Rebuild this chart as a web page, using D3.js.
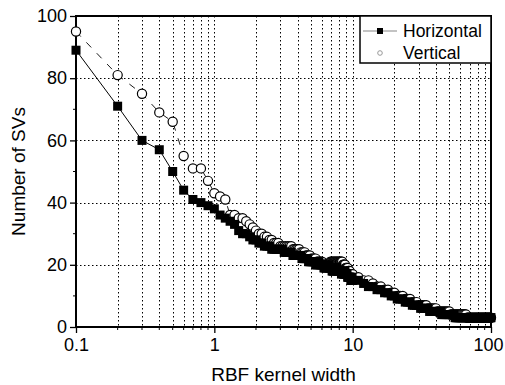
<!DOCTYPE html>
<html lang="en">
<head>
<meta charset="utf-8">
<title>Number of SVs vs RBF kernel width</title>
<script src="https://d3js.org/d3.v7.min.js"></script>
<style>
  body { margin: 0; background: #fff; }
  text { font-family: "Liberation Sans", Arial, sans-serif; fill: #000; }
</style>
</head>
<body>
<script>
// RBF kernel widths (x)
const widths = [
  0.1, 0.2, 0.3, 0.4, 0.5, 0.6, 0.7, 0.8, 0.9, 1.0,
  1.1, 1.2, 1.3, 1.4, 1.5, 1.6, 1.7, 1.8, 1.9, 2.0,
  2.1, 2.2, 2.3, 2.4, 2.5, 2.6, 2.7, 2.8, 2.9, 3.0,
  3.1, 3.2, 3.3, 3.4, 3.5, 3.6, 3.7, 3.8, 3.9, 4.0,
  4.1, 4.2, 4.3, 4.4, 4.5, 4.6, 4.7, 4.8, 4.9, 5.0,
  5.1, 5.2, 5.3, 5.4, 5.5, 5.6, 5.7, 5.8, 5.9, 6.0,
  6.1, 6.2, 6.3, 6.4, 6.5, 6.6, 6.7, 6.8, 6.9, 7.0,
  7.1, 7.2, 7.3, 7.4, 7.5, 7.6, 7.7, 7.8, 7.9, 8.0,
  8.1, 8.2, 8.3, 8.4, 8.5, 8.6, 8.7, 8.8, 8.9, 9.0,
  9.1, 9.2, 9.3, 9.4, 9.5, 9.6, 9.7, 9.8, 9.9, 10,
  11, 12, 13, 14, 15, 16, 17, 18, 19, 20,
  21, 22, 23, 24, 25, 26, 27, 28, 29, 30,
  31, 32, 33, 34, 35, 36, 37, 38, 39, 40,
  41, 42, 43, 44, 45, 46, 47, 48, 49, 50,
  51, 52, 53, 54, 55, 56, 57, 58, 59, 60,
  61, 62, 63, 64, 65, 66, 67, 68, 69, 70,
  71, 72, 73, 74, 75, 76, 77, 78, 79, 80,
  81, 82, 83, 84, 85, 86, 87, 88, 89, 90,
  91, 92, 93, 94, 95, 96, 97, 98, 99, 100
];

// number of SVs, horizontal
const horizontal = [
  89, 71, 60, 57, 50, 44, 41, 40, 39, 38,
  36, 35, 34, 33, 31, 30, 30, 29, 28, 28,
  27, 27, 26, 26, 26, 25, 25, 25, 25, 25,
  25, 24, 24, 24, 24, 24, 23, 23, 23, 23,
  23, 23, 22, 22, 22, 22, 22, 21, 21, 21,
  21, 21, 21, 20, 20, 20, 21, 20, 20, 20,
  20, 19, 19, 19, 19, 19, 20, 19, 19, 19,
  18, 18, 18, 18, 19, 19, 19, 18, 18, 18,
  18, 18, 17, 18, 18, 17, 17, 18, 17, 17,
  17, 16, 16, 16, 16, 16, 15, 15, 16, 15,
  15, 14, 13, 13, 12, 12, 11, 11, 10, 10,
  9, 9, 9, 8, 8, 8, 7, 7, 7, 7,
  6, 6, 6, 6, 6, 5, 5, 5, 5, 5,
  5, 5, 5, 4, 4, 4, 4, 4, 4, 4,
  4, 4, 4, 4, 3, 3, 3, 3, 3, 3,
  3, 3, 3, 3, 3, 3, 3, 3, 3, 3,
  3, 3, 3, 3, 3, 3, 3, 3, 3, 3,
  3, 3, 3, 3, 3, 3, 3, 3, 3, 3,
  3, 3, 3, 3, 3, 3, 3, 3, 3, 3
];

// number of SVs, vertical
const vertical = [
  95, 81, 75, 69, 66, 55, 51, 51, 47, 43,
  42, 41, 36, 36, 35, 35, 34, 33, 32, 31,
  30, 30, 29, 29, 28, 28, 27, 27, 27, 26,
  26, 26, 26, 26, 26, 26, 25, 25, 25, 25,
  25, 24, 24, 24, 24, 23, 23, 23, 23, 22,
  22, 22, 22, 22, 21, 21, 21, 21, 21, 21,
  20, 20, 20, 20, 20, 20, 20, 20, 21, 21,
  21, 21, 21, 21, 21, 21, 21, 21, 21, 21,
  21, 21, 21, 21, 20, 20, 20, 20, 19, 19,
  19, 19, 18, 18, 18, 17, 17, 17, 17, 17,
  16, 15, 15, 14, 13, 13, 12, 12, 11, 11,
  10, 10, 10, 9, 9, 9, 8, 8, 8, 7,
  7, 7, 7, 7, 6, 6, 6, 6, 6, 6,
  5, 5, 5, 5, 5, 5, 5, 5, 5, 5,
  4, 4, 4, 4, 4, 4, 4, 4, 4, 4,
  4, 4, 4, 4, 4, 4, 3, 3, 3, 3,
  3, 3, 3, 3, 3, 3, 3, 3, 3, 3,
  3, 3, 3, 3, 3, 3, 3, 3, 3, 3,
  3, 3, 3, 3, 3, 3, 3, 3, 3, 3
];

const xMajor = [0.1, 1, 10, 100];
const xMinor = [0.2, 0.3, 0.4, 0.5, 0.6, 0.7, 0.8, 0.9,
                2, 3, 4, 5, 6, 7, 8, 9,
                20, 30, 40, 50, 60, 70, 80, 90];
const yMajor = [0, 20, 40, 60, 80, 100];
const yMinor = [10, 30, 50, 70, 90];
const seriesNames = ["Horizontal", "Vertical"];

const width = 505, height = 385;
const margin = { left: 76, right: 14, top: 16, bottom: 58 };

const x = d3.scaleLog().domain([0.1, 100]).range([margin.left, width - margin.right]);
const y = d3.scaleLinear().domain([0, 100]).range([height - margin.bottom, margin.top]);

const svg = d3.select("body").append("svg")
  .attr("width", width)
  .attr("height", height);

// dotted grid
const grid = svg.append("g").attr("stroke", "#000").attr("stroke-width", 1)
  .attr("stroke-dasharray", "1.5,2.5");
grid.selectAll("line.gx")
  .data(xMajor.slice(1, 3).concat(xMinor))
  .join("line")
  .attr("x1", d => Math.round(x(d)) + 0.5).attr("x2", d => Math.round(x(d)) + 0.5)
  .attr("y1", y(100)).attr("y2", y(0));
grid.selectAll("line.gy")
  .data(yMajor.slice(1, 5))
  .join("line")
  .attr("class", "gy")
  .attr("y1", d => Math.round(y(d)) + 0.5).attr("y2", d => Math.round(y(d)) + 0.5)
  .attr("x1", x(0.1)).attr("x2", x(100));

// axes
const xAxis = d3.axisBottom(x).tickValues(xMajor).tickFormat(d3.format("")).tickSize(6).tickPadding(5);
const gx = svg.append("g").attr("transform", `translate(0,${y(0)})`).call(xAxis);
gx.selectAll("line.minor").data(xMinor).join("line")
  .attr("class", "minor")
  .attr("x1", d => x(d)).attr("x2", d => x(d))
  .attr("y1", 0).attr("y2", 3).attr("stroke", "#000");
// keep the last label inside the window
gx.selectAll(".tick text").filter(d => d === 100).attr("dx", -3);

const yAxis = d3.axisLeft(y).tickValues(yMajor).tickSize(6).tickPadding(3);
const gy = svg.append("g").attr("transform", `translate(${x(0.1)},0)`).call(yAxis);
gy.selectAll("line.minor").data(yMinor).join("line")
  .attr("class", "minor")
  .attr("y1", d => y(d)).attr("y2", d => y(d))
  .attr("x1", 0).attr("x2", -3).attr("stroke", "#000");

[gx, gy].forEach(g => {
  g.select(".domain").remove();
  g.selectAll(".tick line").attr("stroke-width", 1.3);
  g.selectAll("text").style("font-size", "18px");
});

// frame
svg.append("rect")
  .attr("x", x(0.1)).attr("y", y(100))
  .attr("width", x(100) - x(0.1)).attr("height", y(0) - y(100))
  .attr("fill", "none").attr("stroke", "#000").attr("stroke-width", 2);

// lines
const pts = widths.map((w, i) => ({ w, h: horizontal[i], v: vertical[i] }));
svg.append("path")
  .datum(pts)
  .attr("fill", "none").attr("stroke", "#000").attr("stroke-width", 1)
  .attr("d", d3.line().x(d => x(d.w)).y(d => y(d.h)));
svg.append("path")
  .datum(pts)
  .attr("fill", "none").attr("stroke", "#000").attr("stroke-width", 0.9)
  .attr("stroke-dasharray", "7,8")
  .attr("d", d3.line().x(d => x(d.w)).y(d => y(d.v)));

// markers: open circles first, filled squares on top
const sq = 9;
svg.append("g").selectAll("circle")
  .data(pts)
  .join("circle")
  .attr("cx", d => x(d.w)).attr("cy", d => y(d.v)).attr("r", 4.6)
  .attr("fill", "#fff").attr("stroke", "#000").attr("stroke-width", 1.2);
svg.append("g").selectAll("rect")
  .data(pts)
  .join("rect")
  .attr("x", d => x(d.w) - sq / 2).attr("y", d => y(d.h) - sq / 2)
  .attr("width", sq).attr("height", sq)
  .attr("fill", "#000");

// legend
const lg = svg.append("g");
lg.append("rect")
  .attr("x", 360).attr("y", y(100))
  .attr("width", x(100) - 360).attr("height", 47)
  .attr("fill", "#fff").attr("stroke", "#000").attr("stroke-width", 1.5);
lg.append("line").attr("x1", 363).attr("x2", 397).attr("y1", 31).attr("y2", 31)
  .attr("stroke", "#888").attr("stroke-width", 1.2);
lg.append("rect").attr("x", 377).attr("y", 28).attr("width", 6).attr("height", 6).attr("fill", "#000");
lg.append("circle").attr("cx", 380).attr("cy", 53).attr("r", 2.3)
  .attr("fill", "#fff").attr("stroke", "#999").attr("stroke-width", 1);
lg.selectAll("text.lab").data(seriesNames).join("text")
  .attr("class", "lab")
  .attr("x", 403).attr("y", (d, i) => 37 + i * 22)
  .style("font-size", "17.5px")
  .text(d => d);

// axis titles
svg.append("text")
  .attr("x", (x(0.1) + x(100)) / 2).attr("y", 381)
  .attr("text-anchor", "middle").style("font-size", "19px")
  .text("RBF kernel width");
svg.append("text")
  .attr("transform", `translate(25,${(y(0) + y(100)) / 2}) rotate(-90)`)
  .attr("text-anchor", "middle").style("font-size", "19px")
  .text("Number of SVs");
</script>
</body>
</html>
